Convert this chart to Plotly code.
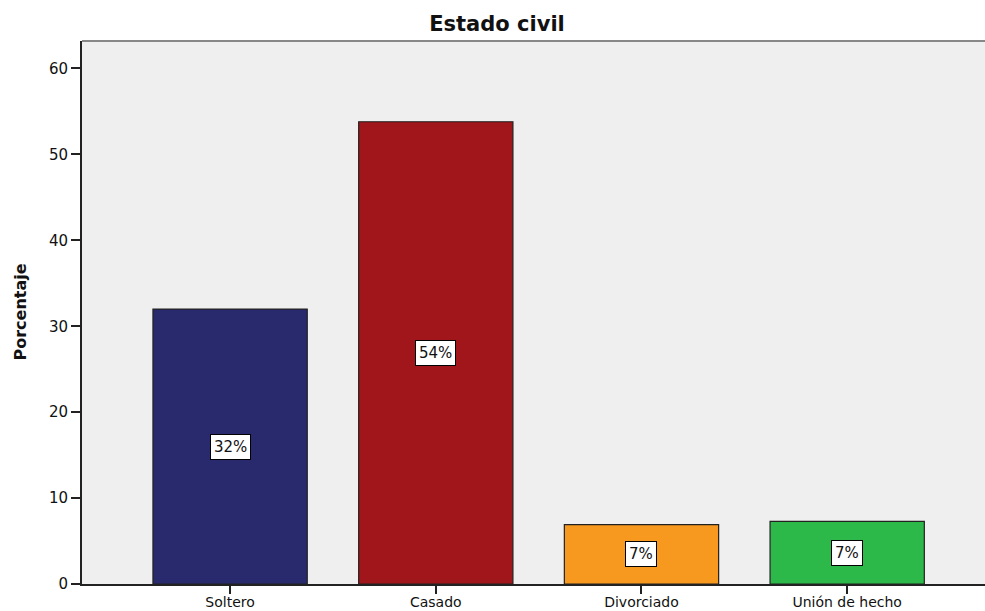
import plotly.graph_objects as go

categories = ["Soltero", "Casado", "Divorciado", "Unión de hecho"]
values = [32.0, 53.8, 6.9, 7.3]
labels = ["32%", "54%", "7%", "7%"]
colors = ["#29296E", "#A0161A", "#F7991E", "#2DB84A"]
y_ticks = [0, 10, 20, 30, 40, 50, 60]

FONT = "DejaVu Sans, Verdana, sans-serif"
W, H = 985, 611

fig = go.Figure()
fig.add_trace(go.Bar(
    x=list(range(len(categories))), y=values,
    marker=dict(color=colors, line=dict(color="#222222", width=1.2)),
    width=0.75, hoverinfo="skip"
))

for i, (v, lab) in enumerate(zip(values, labels)):
    fig.add_annotation(x=i, y=v / 2, xref="x", yref="y", text=lab, showarrow=False,
                       font=dict(family=FONT, size=15, color="#111"),
                       bgcolor="white", bordercolor="black", borderwidth=1, borderpad=3)

fig.add_annotation(x=0, y=0.5, xref="paper", yref="paper", text="<b>Porcentaje</b>",
                   textangle=-90, showarrow=False, xshift=-62, xanchor="center",
                   font=dict(family=FONT, size=16, color="#111"))

fig.add_shape(type="line", xref="paper", yref="paper", x0=0, x1=1, y0=1, y1=1,
              line=dict(color="#888888", width=2))

fig.update_layout(
    width=W, height=H,
    margin=dict(l=82, r=0, t=41, b=H - 584, autoexpand=False),
    paper_bgcolor="white", plot_bgcolor="#EFEFEF",
    showlegend=False,
    title=dict(text="<b>Estado civil</b>", x=497 / W, xref="container", xanchor="center",
               y=1 - 24 / H, yref="container", yanchor="middle",
               font=dict(family=FONT, size=21, color="#111")),
    xaxis=dict(range=[-0.72, 3.67], tickmode="array", tickvals=list(range(len(categories))),
               ticktext=categories, ticks="outside", ticklen=8, tickwidth=1.5, tickcolor="#222",
               ticklabelstandoff=-4,
               showline=True, linecolor="#222", linewidth=2, showgrid=False, zeroline=False,
               tickfont=dict(family=FONT, size=14, color="#111"),
               automargin=False, fixedrange=True),
    yaxis=dict(range=[0, 63.2], tickmode="array", tickvals=y_ticks, ticks="outside",
               ticklen=9, tickwidth=1.5, tickcolor="#222", showline=True, linecolor="#222",
               linewidth=2, showgrid=False, zeroline=False,
               tickfont=dict(family=FONT, size=15, color="#111"),
               automargin=False, fixedrange=True),
)

fig.write_html("out.html", config={"displayModeBar": False},
               post_script="document.body.style.margin='0';document.body.style.overflow='hidden';")
